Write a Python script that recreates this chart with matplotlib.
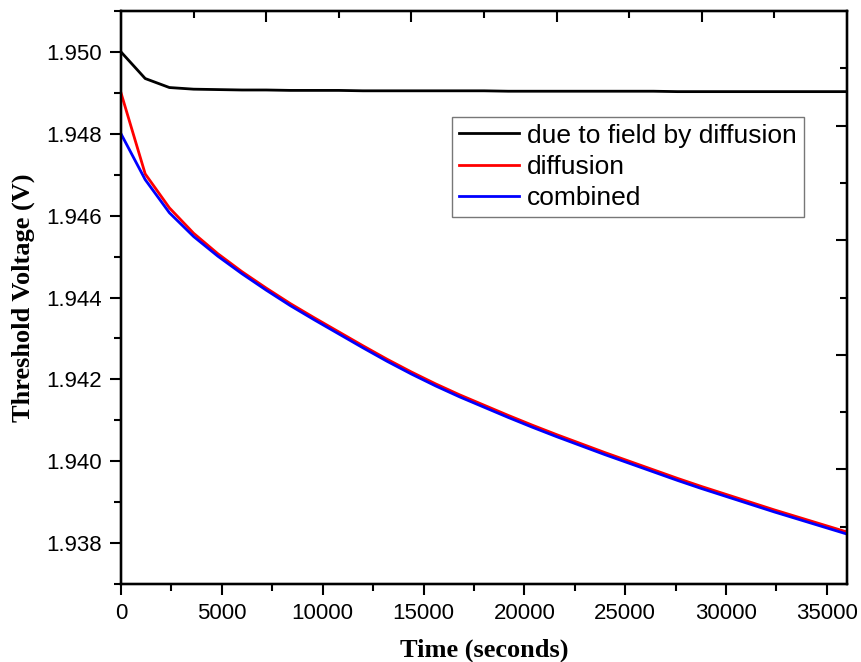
import matplotlib
matplotlib.use("Agg")
import matplotlib.pyplot as plt
from matplotlib.ticker import MultipleLocator, FixedLocator, NullFormatter

time_s = [0, 1200, 2400, 3600, 4800, 6000, 7200, 8400, 9600, 10800, 12000,
          13200, 14400, 15600, 16800, 18000, 19200, 20400, 21600, 22800, 24000,
          25200, 26400, 27600, 28800, 30000, 31200, 32400, 33600, 34800, 36000]

field_by_diffusion = [1.95000, 1.94935, 1.94913, 1.94909, 1.94908, 1.94907, 1.94907,
                      1.94906, 1.94906, 1.94906, 1.94905, 1.94905, 1.94905, 1.94905,
                      1.94905, 1.94905, 1.94904, 1.94904, 1.94904, 1.94904, 1.94904,
                      1.94904, 1.94904, 1.94903, 1.94903, 1.94903, 1.94903, 1.94903,
                      1.94903, 1.94903, 1.94903]

diffusion = [1.94900, 1.94702, 1.94619, 1.94557, 1.94507, 1.94463, 1.94423, 1.94385,
             1.94350, 1.94316, 1.94282, 1.94249, 1.94218, 1.94189, 1.94162, 1.94137,
             1.94112, 1.94088, 1.94065, 1.94043, 1.94021, 1.94000, 1.93979, 1.93958,
             1.93938, 1.93919, 1.93900, 1.93881, 1.93863, 1.93845, 1.93827]

combined = [1.94800, 1.94688, 1.94607, 1.94549, 1.94501, 1.94458, 1.94418, 1.94380,
            1.94345, 1.94311, 1.94277, 1.94244, 1.94213, 1.94184, 1.94157, 1.94132,
            1.94107, 1.94083, 1.94060, 1.94038, 1.94016, 1.93995, 1.93974, 1.93953,
            1.93933, 1.93914, 1.93895, 1.93876, 1.93858, 1.93840, 1.93822]

series_labels = ["due to field by diffusion", "diffusion", "combined"]
y_tick_labels = ["1.938", "1.940", "1.942", "1.944", "1.946", "1.948", "1.950"]
x_tick_labels = ["0", "5000", "10000", "15000", "20000", "25000", "30000", "35000"]

fig = plt.figure(figsize=(8.61, 6.62), dpi=100)
ax = fig.add_axes([121/861, 1-584/662, (847-121)/861, (584-11)/662])

lw = 2.0
ax.plot(time_s, field_by_diffusion, color="black", lw=lw, label=series_labels[0], zorder=3)
ax.plot(time_s, diffusion, color="#ff0000", lw=lw, label=series_labels[1], zorder=3)
ax.plot(time_s, combined, color="#0000ff", lw=lw, label=series_labels[2], zorder=4)

ax.set_xlim(0, 36000)
ax.set_ylim(1.937, 1.951)

ax.set_xticks([float(v) for v in x_tick_labels])
ax.set_xticklabels(x_tick_labels)
ax.set_yticks([float(v) for v in y_tick_labels])
ax.set_yticklabels(y_tick_labels)
ax.xaxis.set_minor_locator(MultipleLocator(2500))
ax.yaxis.set_minor_locator(MultipleLocator(0.001))

for lab in ax.get_xticklabels() + ax.get_yticklabels():
    lab.set_fontfamily("Liberation Sans")
    lab.set_fontsize(16)

ax.tick_params(which="major", direction="out", length=8, width=1.5, pad=6)
ax.tick_params(which="minor", direction="out", length=5, width=1.5)
ax.tick_params(top=False, right=False)
for sp in ax.spines.values():
    sp.set_linewidth(1.6)

# top axis ticks (inward)
axt = ax.twiny()
axt.set_xlim(0, 36000)
axt.xaxis.set_major_locator(FixedLocator([7200, 14400, 21600, 28800]))
axt.xaxis.set_minor_locator(FixedLocator([3600, 10800, 18000, 25200, 32400]))
axt.xaxis.set_major_formatter(NullFormatter())
axt.tick_params(axis="x", which="major", direction="in", length=8, width=1.5)
axt.tick_params(axis="x", which="minor", direction="in", length=5, width=1.5)

# right axis ticks (inward)
axr = ax.twinx()
axr.set_ylim(1.937, 1.951)
axr.yaxis.set_major_locator(FixedLocator([1.9398, 1.9426, 1.9454, 1.9482]))
axr.yaxis.set_minor_locator(FixedLocator([1.9384, 1.9412, 1.9440, 1.9468, 1.9496]))
axr.yaxis.set_major_formatter(NullFormatter())
axr.tick_params(axis="y", which="major", direction="in", length=8, width=1.5)
axr.tick_params(axis="y", which="minor", direction="in", length=5, width=1.5)
for a in (axt, axr):
    for sp in a.spines.values():
        sp.set_linewidth(1.6)

label_font = dict(family="Liberation Serif", weight="bold", size=19)
ax.set_xlabel("Time (seconds)", fontdict=label_font, labelpad=10)
ax.set_ylabel("Threshold Voltage (V)", fontdict=label_font, labelpad=8)

leg = ax.legend(loc="upper left", bbox_to_anchor=(452/861, 1-117/662),
                bbox_transform=fig.transFigure, borderaxespad=0,
                prop={"family": "Liberation Sans", "size": 19},
                frameon=True, fancybox=False, edgecolor="#555555",
                handlelength=2.3, handletextpad=0.3, labelspacing=0.28,
                borderpad=0.25)
leg.get_frame().set_linewidth(1.0)
leg.set_zorder(10)

fig.savefig("out.png", dpi=100, facecolor="white")
